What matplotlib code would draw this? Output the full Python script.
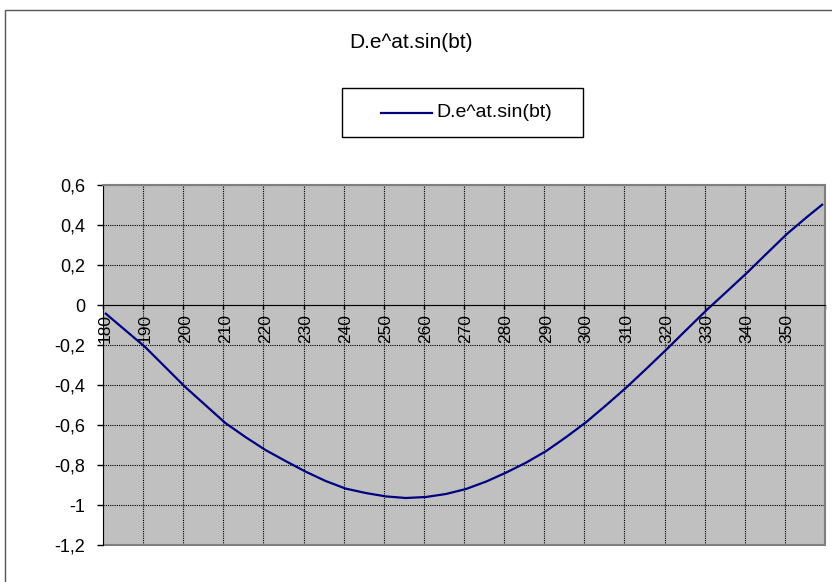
'''
Excel style line chart of D.e^at.sin(bt) with a category axis crossing at zero.
'''

import numpy as np
from matplotlib import pyplot as plt
from matplotlib.patches import Rectangle
from matplotlib.lines import Line2D
from matplotlib.ticker import FuncFormatter

## Data
t = [180, 185, 190, 195, 200, 205, 210, 215, 220, 225, 230, 235, 240, 245, 250,
     255, 260, 265, 270, 275, 280, 285, 290, 295, 300, 305, 310, 315, 320, 325,
     330, 335, 340, 345, 350, 355, 359]
y = [-0.04, -0.125, -0.21, -0.31, -0.41, -0.50, -0.59, -0.66, -0.725, -0.78,
     -0.833, -0.88, -0.918, -0.94, -0.957, -0.965, -0.960, -0.945, -0.920, -0.883,
     -0.838, -0.788, -0.730, -0.66, -0.585, -0.50, -0.412, -0.318, -0.222, -0.123,
     -0.025, 0.067, 0.16, 0.258, 0.355, 0.44, 0.505]
xLabels = list(range(180, 351, 10))
yTicks = [-1.2, -1.0, -0.8, -0.6, -0.4, -0.2, 0.0, 0.2, 0.4, 0.6]
title = 'D.e^at.sin(bt)'
lineColor = '#000080'

plt.rcParams['font.family'] = ['Liberation Sans', 'DejaVu Sans']

W, H = 832, 582
fig = plt.figure(figsize=(W/100, H/100), dpi=100)

# outer chart border (runs off the right and bottom edges)
fig.patches.append(Rectangle((5/W, -0.01), 1.0, 1 - 10/H + 0.01, transform=fig.transFigure,
                             fill=False, edgecolor='#555555', linewidth=1.0))

# plot area in pixels: x 103..825, y 185..545
ax = fig.add_axes([103/W, (H-545)/H, 722/W, 360/H])
ax.set_facecolor('#c0c0c0')

ax.plot(t, y, color=lineColor, linewidth=1.6, label=title, solid_capstyle='butt')

ax.set_xlim(179.5, 359.5)
ax.set_ylim(-1.2, 0.6)

## y axis
ax.set_yticks(yTicks)
ax.yaxis.set_major_formatter(FuncFormatter(lambda v, p: '{:g}'.format(round(v, 1)).replace('.', ',')))
ax.tick_params(axis='y', direction='out', length=4.3, width=1, labelsize=13, pad=8.6)

## category axis at zero
ax.spines['bottom'].set_position(('data', 0))
ax.set_xticks(xLabels)
ax.set_xticklabels([str(v) for v in xLabels], rotation=90, va='top')
ax.set_xticks(np.arange(179.5, 360, 10), minor=True)
ax.tick_params(axis='x', which='major', length=0, labelsize=12.5, pad=6.5)
ax.tick_params(axis='x', which='minor', direction='out', length=3, width=1)

# dotted grid
ax.grid(True, axis='y', which='major', color='black', linestyle=(0, (1, 1)), linewidth=0.8)
ax.grid(True, axis='x', which='minor', color='black', linestyle=(0, (1, 1)), linewidth=0.8)
ax.set_axisbelow(True)

for s in ['top', 'right']:
    ax.spines[s].set_color('#808080')
    ax.spines[s].set_linewidth(1.5)
ax.spines['left'].set_color('black')
ax.spines['bottom'].set_color('black')
ax.add_patch(Rectangle((0, 0), 1, 0, transform=ax.transAxes, fill=False,
                       edgecolor='#808080', linewidth=1.5, clip_on=False))

## title
fig.text(411/W, 1 - 43/H, title, ha='center', va='center', fontsize=15)

## legend box drawn in figure pixels: x 342..583, y 88..137
fig.patches.append(Rectangle((342/W, 1 - 137/H), 241/W, 49/H, transform=fig.transFigure,
                             facecolor='white', edgecolor='black', linewidth=1.0))
fig.lines.append(Line2D([381/W, 432/W], [1 - 112.5/H, 1 - 112.5/H], transform=fig.transFigure,
                        color=lineColor, linewidth=1.6))
fig.text(436/W, 1 - 112.5/H, title, ha='left', va='center', fontsize=14)

fig.savefig('out.png', dpi=100)
